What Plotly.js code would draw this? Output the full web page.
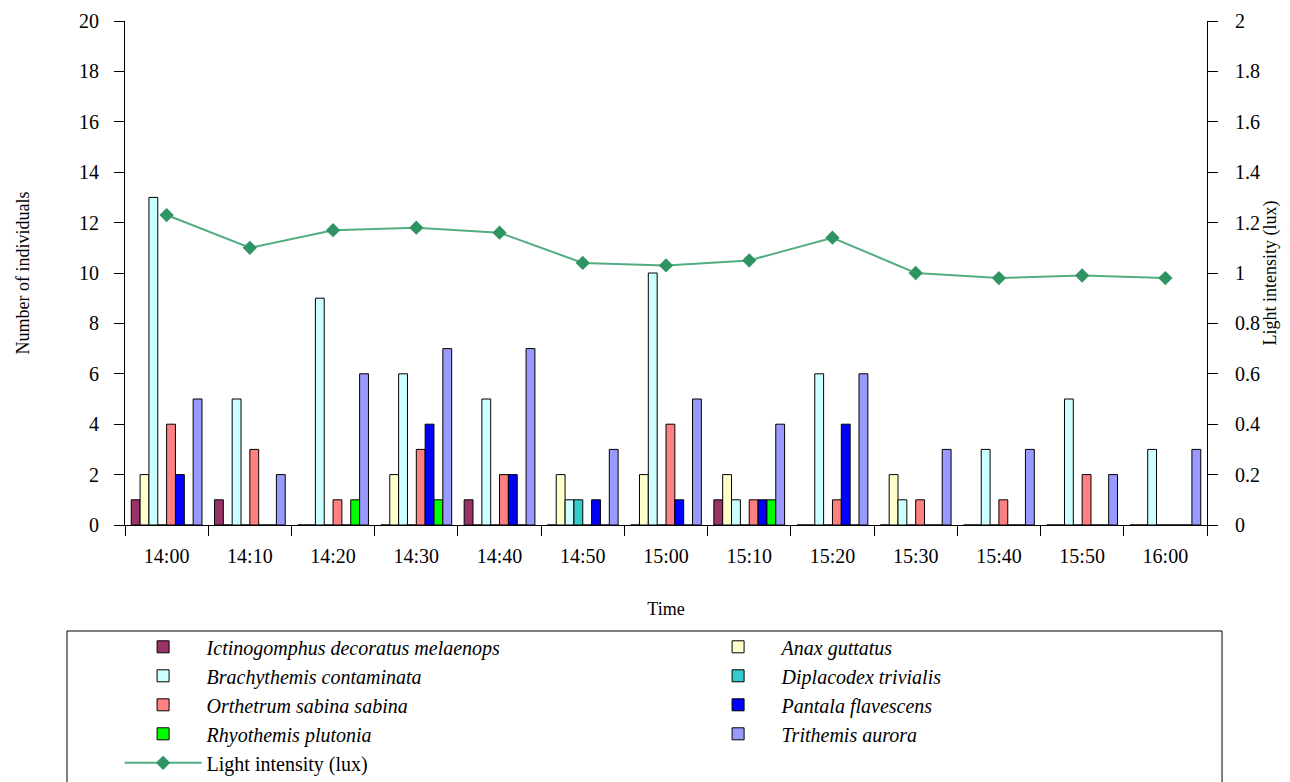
<!DOCTYPE html>
<html><head><meta charset="utf-8">
<script src="https://cdn.plot.ly/plotly-3.0.1.min.js"></script>
<style>html,body{margin:0;padding:0;background:#fff}</style>
</head><body><div id="chart" style="width:1290px;height:782px"></div>
<script>
const times = ['14:00','14:10','14:20','14:30','14:40','14:50','15:00','15:10','15:20','15:30','15:40','15:50','16:00'];
const ictinogomphus = [1,1,0,0,1,0,0,1,0,0,0,0,0];
const anax = [2,0,0,2,0,2,2,2,0,2,0,0,0];
const brachythemis = [13,5,9,6,5,1,10,1,6,1,3,5,3];
const diplacodex = [0,0,0,0,0,1,0,0,0,0,0,0,0];
const orthetrum = [4,3,1,3,2,0,4,1,1,1,1,2,0];
const pantala = [2,0,0,4,2,1,1,1,4,0,0,0,0];
const rhyothemis = [0,0,1,1,0,0,0,1,0,0,0,0,0];
const trithemis = [5,2,6,7,7,3,5,4,6,3,3,2,3];
const lightIntensity = [1.23,1.10,1.17,1.18,1.16,1.04,1.03,1.05,1.14,1.00,0.98,0.99,0.98];

const speciesNames = ['Ictinogomphus decoratus melaenops','Anax guttatus','Brachythemis contaminata','Diplacodex trivialis','Orthetrum sabina sabina','Pantala flavescens','Rhyothemis plutonia','Trithemis aurora'];
const speciesValues = [ictinogomphus, anax, brachythemis, diplacodex, orthetrum, pantala, rhyothemis, trithemis];
const speciesColors = ['#993366','#FFFFCC','#CCFFFF','#33CCCC','#FF8080','#0000FF','#00FF00','#9999FF'];

const FONT = '"Liberation Serif", "Times New Roman", Times, serif';

const traces = speciesNames.map((n, i) => ({
  type: 'bar', name: '<i>' + n + '</i>', x: times, y: speciesValues[i],
  marker: {color: speciesColors[i], line: {color: '#000', width: 1}},
  yaxis: 'y'
}));
traces.push({
  type: 'scatter', mode: 'lines+markers', name: 'Light intensity (lux)',
  x: times, y: lightIntensity, yaxis: 'y2',
  line: {color: '#52AD80', width: 2},
  marker: {symbol: 'diamond', size: 11, color: '#2E9464'}
});

const layout = {
  width: 1290, height: 782,
  margin: {l: 125, r: 83, t: 21, b: 257, autoexpand: false},
  paper_bgcolor: '#fff', plot_bgcolor: '#fff',
  font: {family: FONT, size: 18, color: '#000'},
  barmode: 'group', bargap: 0.15, bargroupgap: 0,
  showlegend: true,
  xaxis: {
    type: 'category', range: [-0.5, times.length - 0.5], autorange: false,
    tickson: 'boundaries', ticks: 'outside', ticklen: 10, tickcolor: '#000',
    showline: true, linecolor: '#000', linewidth: 1, showgrid: false, zeroline: false,
    tickfont: {family: FONT, size: 20}, ticklabelstandoff: 13,
    title: {text: 'Time', font: {family: FONT, size: 18}, standoff: 36}
  },
  yaxis: {
    range: [0, 20], dtick: 2, ticks: 'outside', ticklen: 10, tickcolor: '#000',
    showline: true, linecolor: '#000', linewidth: 1, showgrid: false, zeroline: false,
    tickfont: {family: FONT, size: 20}, ticklabelstandoff: 11,
    title: {text: 'Number of individuals', font: {family: FONT, size: 18}, standoff: 44}
  },
  yaxis2: {
    range: [0, 2], dtick: 0.2, overlaying: 'y', side: 'right', ticks: 'outside', ticklen: 10, tickcolor: '#000',
    showline: true, linecolor: '#000', linewidth: 1, showgrid: false, zeroline: false,
    tickfont: {family: FONT, size: 20}, ticklabelstandoff: 13,
    title: {text: 'Light intensity (lux)', font: {family: FONT, size: 18}, standoff: 0}
  },
  legend: {
    orientation: 'h', x: -0.005, xanchor: 'left', y: -0.203, yanchor: 'top',
    font: {family: FONT, size: 20, color: '#000'},
    itemwidth: 77, entrywidth: 483, entrywidthmode: 'pixels',
    bgcolor: 'rgba(0,0,0,0)', borderwidth: 0, traceorder: 'normal'
  },
  shapes: [{
    type: 'rect', xref: 'paper', yref: 'paper',
    x0: -0.0536, x1: 1.0139, y0: -0.2103, y1: -0.56,
    line: {color: '#000', width: 1}, fillcolor: 'rgba(0,0,0,0)', layer: 'below'
  }]
};

Plotly.newPlot('chart', traces, layout, {displayModeBar: false, staticPlot: true});
</script></body></html>
